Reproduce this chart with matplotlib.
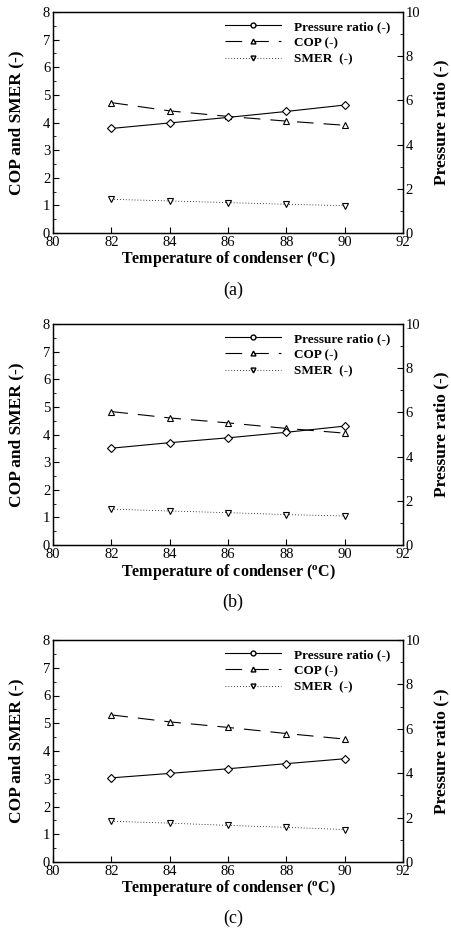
import matplotlib.pyplot as plt
from matplotlib.lines import Line2D
from matplotlib.ticker import MultipleLocator

plt.rcParams['font.family'] = ['Liberation Serif', 'DejaVu Serif']

temp = [82, 84, 86, 88, 90]

# panel data: pressure ratio (right axis), COP and SMER (left axis)
pr_a = [4.73, 4.98, 5.23, 5.50, 5.79]
cop_a = [4.72, 4.42, 4.22, 4.05, 3.90]
smer_a = [1.22, 1.16, 1.10, 1.04, 0.99]

pr_b = [4.38, 4.63, 4.85, 5.10, 5.38]
cop_b = [4.83, 4.60, 4.42, 4.22, 4.05]
smer_b = [1.30, 1.23, 1.17, 1.10, 1.05]

pr_c = [3.79, 3.99, 4.20, 4.43, 4.65]
cop_c = [5.30, 5.05, 4.85, 4.63, 4.43]
smer_c = [1.47, 1.40, 1.32, 1.25, 1.17]

panels = [("(a)", pr_a, cop_a, smer_a),
          ("(b)", pr_b, cop_b, smer_b),
          ("(c)", pr_c, cop_c, smer_c)]

W, H = 451, 932
fig = plt.figure(figsize=(W / 100, H / 100), dpi=100)

# axes boxes in pixels: left, top, right, bottom
boxes = [(53, 12, 403, 233), (53, 324, 403, 545), (53, 640, 403, 862)]
xlab_y = [259, 572, 888]
lab_y = [290, 602, 918]

for i, (lab, pr, cop, smer) in enumerate(panels):
    l, t, r, b = boxes[i]
    ax = fig.add_axes([l / W, 1 - b / H, (r - l) / W, (b - t) / H])
    ax2 = ax.twinx()

    ax.plot(temp, cop, color='black', lw=0.8, dashes=(15, 9),
            marker='^', ms=5, mfc='white', mec='black', mew=0.8)
    ax.plot(temp, smer, color='black', lw=0.6, ls=(0, (1, 2.5)),
            marker='v', ms=5, mfc='white', mec='black', mew=0.8)
    ax2.plot(temp, pr, color='black', lw=0.8,
             marker='D', ms=4.5, mfc='white', mec='black', mew=0.8)

    ax.set_xlim(80, 92)
    ax.set_ylim(0, 8)
    ax2.set_ylim(0, 10)
    ax.xaxis.set_major_locator(MultipleLocator(2))
    ax.yaxis.set_major_locator(MultipleLocator(1))
    ax.yaxis.set_minor_locator(MultipleLocator(0.5))
    ax2.yaxis.set_major_locator(MultipleLocator(2))
    ax2.yaxis.set_minor_locator(MultipleLocator(1))
    for a in (ax, ax2):
        a.tick_params(which='both', direction='in', labelsize=10.5, pad=2)
        a.tick_params(which='major', length=4)
        a.tick_params(which='minor', length=2.5)
        for s in a.spines.values():
            s.set_linewidth(0.9)

    ax.set_ylabel('COP and SMER (-)', fontsize=12.5, fontweight='bold', labelpad=13)
    ax2.set_ylabel('Pressure ratio (-)', fontsize=12.5, fontweight='bold', labelpad=9)
    fig.text(228 / W, 1 - xlab_y[i] / H, r'Temperature of condenser ($\mathregular{^o}$C)',
             fontsize=11.5, fontweight='bold', ha='center', va='center')
    fig.text(233 / W, 1 - lab_y[i] / H, lab, fontsize=13, ha='center', va='center')

    handles = [
        Line2D([], [], color='black', lw=0.8, marker='o', ms=3.5, mfc='white', mec='black'),
        Line2D([], [], color='black', lw=0.8, dashes=(15, 9), marker='^', ms=3.5, mfc='white', mec='black'),
        Line2D([], [], color='black', lw=0.6, ls=(0, (1, 2.5)), marker='v', ms=3.5, mfc='white', mec='black'),
    ]
    ax.legend(handles, ['Pressure ratio (-)', 'COP (-)', 'SMER  (-)'],
              loc='upper left', bbox_to_anchor=(0.475, 0.985), frameon=False,
              prop={'weight': 'bold', 'size': 9.5}, handlelength=4.3,
              handletextpad=1.0, labelspacing=0.3, borderaxespad=0)

fig.savefig('out.png', dpi=100)
